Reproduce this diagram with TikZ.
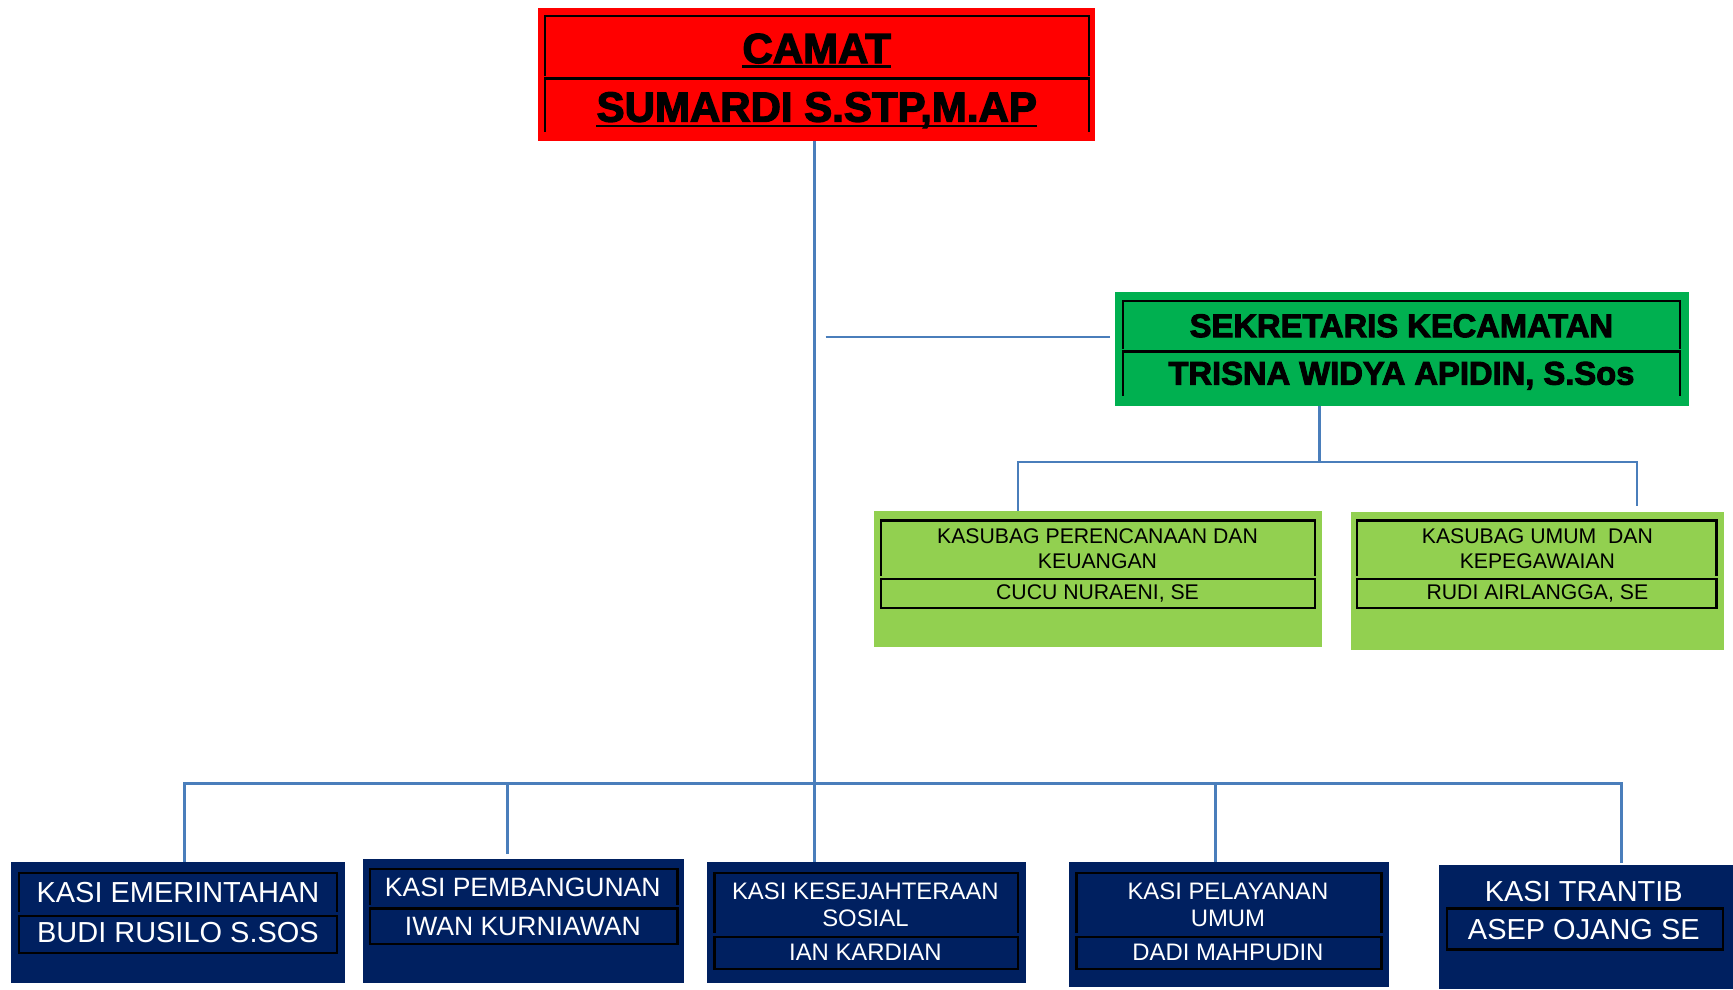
\documentclass[tikz,border=0pt]{standalone}
\usepackage{fontspec}
\setmainfont{Liberation Sans}
\newfontfamily\heavyfont{Liberation Sans}[BoldFeatures={FakeBold=3}]
\usetikzlibrary{positioning}

\definecolor{camatred}{HTML}{FF0000}
\definecolor{sekgreen}{HTML}{00B050}
\definecolor{subgreen}{HTML}{92D050}
\definecolor{kasinavy}{HTML}{002060}
\definecolor{linkblue}{HTML}{4A7EBB}

\begin{document}
\begin{tikzpicture}[x=0.5pt,y=-0.5pt,
  box/.style={inner sep=0pt, outer sep=0pt},
  link/.style={draw=linkblue, line width=1.2pt},
  frame/.style={draw=black, line width=1pt},
  judul/.style={inner sep=0pt, anchor=base, font=\heavyfont\bfseries\fontsize{#1}{#1}\selectfont},
  ket/.style={inner sep=0pt, anchor=base, font=\fontsize{#1}{#1}\selectfont},
  garis/.style={draw=black, line width=1.2pt}]
\useasboundingbox (0,0) rectangle (1568,895);

% kotak utama
\node[box, fill=camatred, minimum width=252pt, minimum height=60.5pt] (camat) at (739,67.5) {};
\node[box, fill=sekgreen, minimum width=259.5pt, minimum height=51.5pt] (sekcam) at (1268.5,315.5) {};
\node[box, fill=subgreen, minimum width=202.5pt, minimum height=61.5pt] (perenc) at (993.5,523.5) {};
\node[box, fill=subgreen, minimum width=169pt, minimum height=62.5pt] (umum) at (1391,525.5) {};
\node[box, fill=kasinavy, minimum width=151pt, minimum height=54.5pt] (emer) at (161,834.5) {};
\node[box, fill=kasinavy, minimum width=145.5pt, minimum height=56pt] (pemb) at (473.5,833) {};
\node[box, fill=kasinavy, minimum width=144pt, minimum height=54.5pt] (kesos) at (784,834.5) {};
\node[box, fill=kasinavy, minimum width=145pt, minimum height=56.5pt] (pelay) at (1112,836.5) {};
\node[box, fill=kasinavy, minimum width=133pt, minimum height=56pt] (trantib) at (1435,839) {};

% bingkai dalam
\draw[frame] (493,69) -- (493,14.5) -- (985,14.5) -- (985,69);
\draw[frame] (493,119) -- (493,71) -- (985,71) -- (985,119);
\draw[frame] (1016,316) -- (1016,272) -- (1520,272) -- (1520,316);
\draw[frame] (1016,358) -- (1016,318) -- (1520,318) -- (1520,358);
\draw[frame] (797,521) -- (797,471) -- (1190,471) -- (1190,521);
\draw[frame] (797,524) rectangle (1190,550);
\draw[frame] (1228,521) -- (1228,471) -- (1553,471) -- (1553,521);
\draw[frame] (1228,524) rectangle (1553,550);
\draw[frame] (17,825) -- (17,790) -- (305,790) -- (305,825);
\draw[frame] (17,829) rectangle (305,862);
\draw[frame] (335,819) -- (335,786) -- (613,786) -- (613,819);
\draw[frame] (335,822) rectangle (613,854);
\draw[frame] (646.5,844) -- (646.5,790) -- (921,790) -- (921,844);
\draw[frame] (646.5,848) rectangle (921,877);
\draw[frame] (974,844) -- (974,790) -- (1250,790) -- (1250,844);
\draw[frame] (974,848) rectangle (1250,877);
\draw[frame] (1309,822) rectangle (1559,859);

% teks
\node[judul=19] (camat-jab) at (739,57) {CAMAT};
\node[judul=19] (camat-nama) at (739,110) {SUMARDI S.STP,M.AP};
\draw[garis] ([yshift=-1.6pt]camat-jab.base west) -- ([yshift=-1.6pt]camat-jab.base east);
\draw[garis] ([yshift=-2pt]camat-nama.base west) -- ([yshift=-2pt]camat-nama.base east);
\node[judul=14.8] (sek-jab) at (1268,305) {SEKRETARIS KECAMATAN};
\node[judul=14.8] (sek-nama) at (1268,348) {TRISNA WIDYA APIDIN, S.Sos};
\node[ket=9.6] (perenc-jab1) at (993,492) {KASUBAG PERENCANAAN DAN};
\node[ket=9.6] (perenc-jab2) at (993,514) {KEUANGAN};
\node[ket=9.6] (perenc-nama) at (993,542) {CUCU NURAENI, SE};
\node[ket=9.6] (umum-jab1) at (1391,492) {KASUBAG UMUM\ \ DAN};
\node[ket=9.6] (umum-jab2) at (1391,514) {KEPEGAWAIAN};
\node[ket=9.6] (umum-nama) at (1391,542) {RUDI AIRLANGGA, SE};
\node[ket=13.1, text=white] (emer-jab) at (161,817) {KASI EMERINTAHAN};
\node[ket=13.1, text=white] (emer-nama) at (161,853) {BUDI RUSILO S.SOS};
\node[ket=12, text=white] (pemb-jab) at (473,811) {KASI PEMBANGUNAN};
\node[ket=12, text=white] (pemb-nama) at (473,846) {IWAN KURNIAWAN};
\node[ket=10.8, text=white] (kesos-jab1) at (783,814) {KASI KESEJAHTERAAN};
\node[ket=10.8, text=white] (kesos-jab2) at (783,838) {SOSIAL};
\node[ket=10.8, text=white] (kesos-nama) at (783,869) {IAN KARDIAN};
\node[ket=10.8, text=white] (pelay-jab1) at (1111,814) {KASI PELAYANAN};
\node[ket=10.8, text=white] (pelay-jab2) at (1111,838) {UMUM};
\node[ket=10.8, text=white] (pelay-nama) at (1111,869) {DADI MAHPUDIN};
\node[ket=13.1, text=white] (trantib-jab) at (1433,816) {KASI TRANTIB};
\node[ket=13.1, text=white] (trantib-nama) at (1433,850) {ASEP OJANG SE};

% garis penghubung
\coordinate (bus) at (737,709);
\coordinate (sek-l) at (747,305);
\coordinate (sub) at (1194,418);
\coordinate (sub-l) at (921,418);
\coordinate (sub-r) at (1481,418);
\coordinate (b1) at (167,709);
\coordinate (b2) at (459,709);
\coordinate (b4) at (1100,709);
\coordinate (b5) at (1467,709);
\draw[link] (camat.south -| bus) -- (kesos.north -| bus);
\draw[link] (sek-l) -- ([xshift=-2.5pt]sek-l -| sekcam.west);
\draw[link] (sub |- sekcam.south) -- (sub);
\draw[link] (perenc.north -| sub-l) -- (sub-l) -- (sub-r) -- ([yshift=2.5pt]sub-r |- umum.north);
\draw[link] (b1 |- emer.north) -- (b1) -- (b5) -- ([yshift=1pt]b5 |- trantib.north);
\draw[link] (b2) -- ([yshift=2pt]b2 |- pemb.north);
\draw[link] (b4) -- (b4 |- pelay.north);
\end{tikzpicture}
\end{document}
